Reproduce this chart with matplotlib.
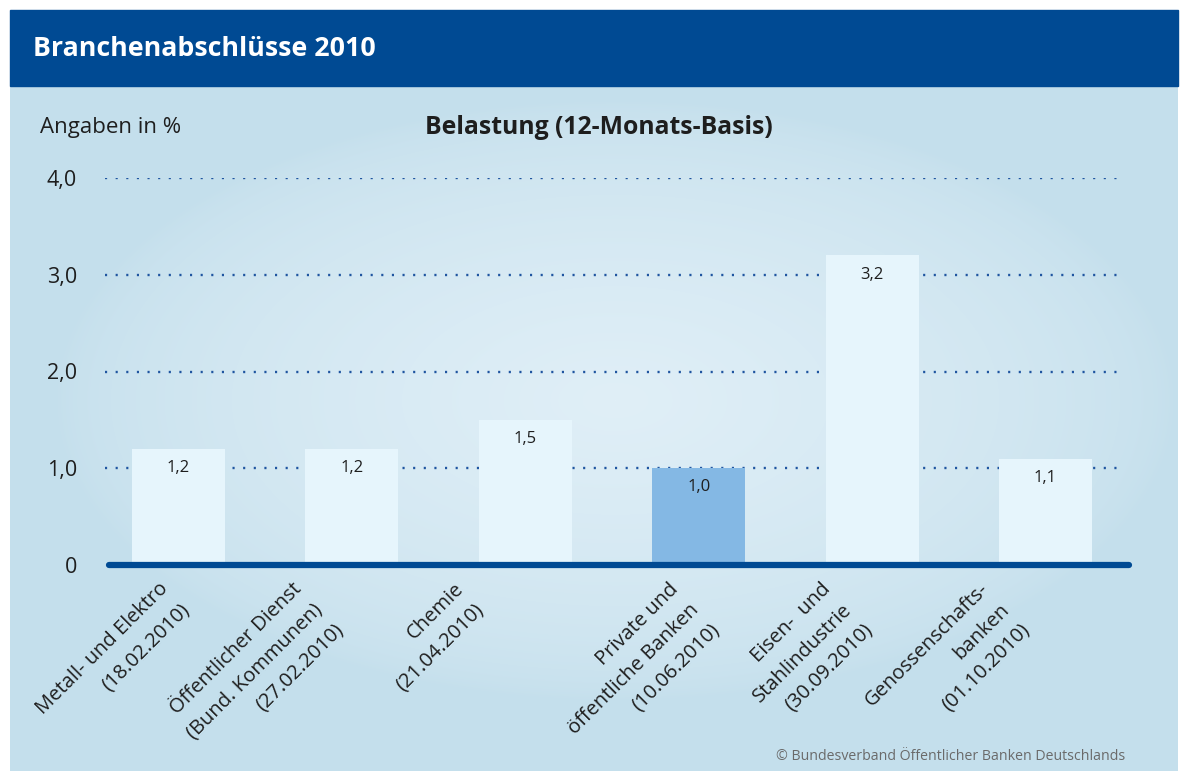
import numpy as np
import matplotlib.pyplot as plt
from matplotlib.patches import Rectangle
from matplotlib import transforms

plt.rcParams['font.family'] = ['Open Sans', 'DejaVu Sans']

categories = ["Metall- und Elektro\n(18.02.2010)",
              "Öffentlicher Dienst\n(Bund. Kommunen)\n(27.02.2010)",
              "Chemie\n(21.04.2010)",
              "Private und\nöffentliche Banken\n(10.06.2010)",
              "Eisen-  und\nStahlindustrie\n(30.09.2010)",
              "Genossenschafts-\nbanken\n(01.10.2010)"]
values = [1.2, 1.2, 1.5, 1.0, 3.2, 1.1]
highlight = [False, False, False, True, False, False]
yticks = [0, 1, 2, 3, 4]
ytick_labels = ["0", "1,0", "2,0", "3,0", "4,0"]

# label placement tweaks (pixels), reference places them by hand
label_dx = [-20, -60, -72, -30, -51, -67]

W, H = 1188, 781
fig = plt.figure(figsize=(W / 100, H / 100), dpi=100)
fig.patch.set_facecolor('white')

# background: header bar + light blue panel with soft glow
bg = fig.add_axes([0, 0, 1, 1])
bg.axis('off')
yy, xx = np.mgrid[86:771, 10:1178]
r = np.sqrt(((xx - 615) / 560.0) ** 2 + ((yy - 400) / 300.0) ** 2)
t = np.clip(1 - r, 0, 1) ** 0.6
edge = np.array([196, 223, 236]) / 255.0
centre = np.array([224, 239, 247]) / 255.0
img = edge + (centre - edge) * t[..., None]
bg.imshow(img, extent=(10, 1178, 771, 86), aspect='auto', interpolation='bilinear')
bg.add_patch(Rectangle((10, 10), 1168, 76, color='#004a93'))
bg.text(33, 49, "Branchenabschlüsse 2010", color='white', fontsize=19.3,
        fontweight='bold', va='center')
bg.text(40, 128, "Angaben in %", fontsize=16, va='center', color='#1e1e1e')
bg.text(599, 128, "Belastung (12-Monats-Basis)", fontsize=17.8, fontweight='bold',
        ha='center', va='center', color='#1e1e1e')
bg.text(1125, 757, "© Bundesverband Öffentlicher Banken Deutschlands", ha='right',
        va='center', color='#6a6a6a', fontsize=10.2)
bg.set_xlim(0, W)
bg.set_ylim(H, 0)

ax = fig.add_axes([105 / W, (H - 565) / H, 1028 / W, (565 - 178) / H])
ax.patch.set_alpha(0)
x = np.arange(len(values))
colors = ['#84b8e4' if h else '#e6f5fc' for h in highlight]
ax.bar(x, values, width=0.537, color=colors, zorder=2)

for y in yticks[1:]:
    ax.axhline(y, xmin=0, xmax=(1125 - 105) / 1028, color='#1f55a0', lw=1.7,
               ls=(0, (0.9, 3.6)), zorder=1)
ax.axhline(0, xmin=0.004, xmax=0.996, color='#004a93', lw=4.5,
           solid_capstyle='round', zorder=3, clip_on=False)

ax.set_xlim(-0.424, 5.505)
ax.set_ylim(0, 4)
for s in ax.spines.values():
    s.set_visible(False)
ax.set_xticks([])
ax.set_yticks(yticks, ytick_labels)
ax.tick_params(axis='y', length=0, pad=20, labelsize=15.5, labelcolor='#1e1e1e')

for i, v in enumerate(values):
    ax.annotate(f"{v:.1f}".replace('.', ','), (i, v), xytext=(0, -8),
                textcoords='offset points', ha='center', va='top', fontsize=12,
                color='#1e1e1e', zorder=4)

for i, (lab, dx) in enumerate(zip(categories, label_dx)):
    tr = ax.transData + transforms.ScaledTranslation(dx / 100, -14 / 100,
                                                     fig.dpi_scale_trans)
    ax.text(i, 0, lab, transform=tr, rotation=45, rotation_mode='anchor',
            ha='right', va='top', multialignment='right', fontsize=14.5,
            linespacing=1.6, color='#1e1e1e')

fig.savefig('out.png', dpi=100)
